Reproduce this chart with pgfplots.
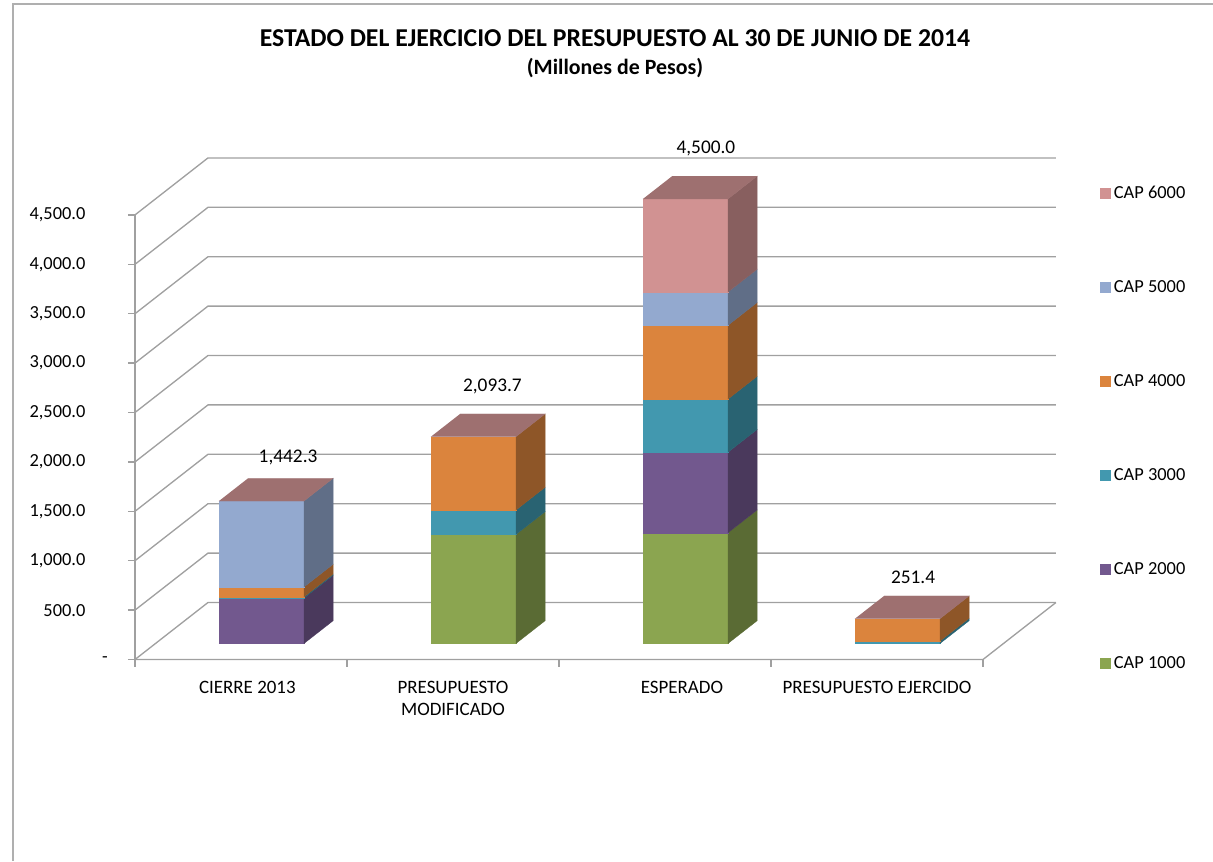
\documentclass[border=0pt]{standalone}
\usepackage{pgfplots}
\pgfplotsset{compat=1.18}
\usepackage{fontspec}
\setmainfont{Carlito}
% front / side colours
\definecolor{fA}{RGB}{139,165,80}   \definecolor{sA}{RGB}{90,107,52}
\definecolor{fB}{RGB}{114,88,142}   \definecolor{sB}{RGB}{74,57,92}
\definecolor{fC}{RGB}{66,152,175}   \definecolor{sC}{RGB}{41,99,114}
\definecolor{fD}{RGB}{219,132,61}   \definecolor{sD}{RGB}{142,86,40}
\definecolor{fE}{RGB}{147,169,207}  \definecolor{sE}{RGB}{96,110,135}
\definecolor{fF}{RGB}{209,146,146}  \definecolor{sF}{RGB}{136,95,95}
\definecolor{topc}{RGB}{158,112,112}
\definecolor{gridc}{RGB}{160,160,160}
\definecolor{framec}{RGB}{175,175,175}
% bar geometry (category units / value units)
\def\hw{0.2005}\def\fdx{0.0964}\def\fdy{161.5}\def\bdx{0.2341}\def\bdy{392.3}
% segment: x, base, height, front colour, side colour
\newcommand\seg[5]{%
 \pgfmathsetmacro\Xa{#1-\hw+\fdx}%
 \pgfmathsetmacro\Xb{#1+\hw+\fdx}%
 \pgfmathsetmacro\Xc{#1+\hw+\bdx}%
 \pgfmathsetmacro\Ya{#2+\fdy}%
 \pgfmathsetmacro\Yb{#2+#3+\fdy}%
 \pgfmathsetmacro\Yc{#2+\bdy}%
 \pgfmathsetmacro\Yd{#2+#3+\bdy}%
 \edef\next{%
  \noexpand\addplot[fill=#4,draw=#4,line width=0.2pt,forget plot] coordinates {(\Xa,\Ya) (\Xb,\Ya) (\Xb,\Yb) (\Xa,\Yb)};%
  \noexpand\addplot[fill=#5,draw=#5,line width=0.2pt,forget plot] coordinates {(\Xb,\Ya) (\Xc,\Yc) (\Xc,\Yd) (\Xb,\Yb)};%
 }\next}
% top face: x, total
\newcommand\topf[2]{%
 \pgfmathsetmacro\Xa{#1-\hw+\fdx}%
 \pgfmathsetmacro\Xb{#1+\hw+\fdx}%
 \pgfmathsetmacro\Xc{#1+\hw+\bdx}%
 \pgfmathsetmacro\Xd{#1-\hw+\bdx}%
 \pgfmathsetmacro\Ya{#2+\fdy}%
 \pgfmathsetmacro\Yc{#2+\bdy}%
 \edef\next{\noexpand\addplot[fill=topc,draw=topc,line width=0.2pt,forget plot] coordinates {(\Xa,\Ya) (\Xb,\Ya) (\Xc,\Yc) (\Xd,\Yc)};}\next}
\begin{document}
\begin{tikzpicture}
\useasboundingbox (0,0) rectangle (909.75pt,645.75pt);
\draw[framec, line width=1pt] (9.75pt,0) -- (9.75pt,642.75pt) -- (909.75pt,642.75pt);
\node[anchor=base, font=\bfseries\fontsize{19.3}{23}\selectfont] at (461.25pt,611pt)
  {ESTADO DEL EJERCICIO DEL PRESUPUESTO AL 30 DE JUNIO DE 2014};
\node[anchor=base, font=\bfseries\fontsize{16.4}{20}\selectfont] at (461.25pt,589.5pt)
  {(Millones de Pesos)};
\begin{axis}[
  at={(101.25pt,151.125pt)}, anchor=south west,
  scale only axis, width=691.65pt, height=377.9pt,
  xmin=-0.5, xmax=3.85, ymin=0, ymax=5100,
  clip=false,
  axis line style={draw=none},
  tick align=outside,
  major tick length=5.25pt,
  tick style={gridc, line width=1pt},
  ytick pos=left, xtick pos=bottom,
  ytick={0,500,1000,1500,2000,2500,3000,3500,4000,4500},
  yticklabels={{\rlap{\hspace{12.5pt}-}},500.0,{1,000.0},{1,500.0},{2,000.0},{2,500.0},{3,000.0},{3,500.0},{4,000.0},{4,500.0}},
  yticklabel style={font=\fontsize{13.8}{16.5}\selectfont, xshift=-28.4pt},
  xtick={-0.5,0.5,1.5,2.5,3.5},
  xticklabels={},
  extra x ticks={0.03,1.0,2.08,3.0},
  extra x tick labels={CIERRE 2013,PRESUPUESTO\\MODIFICADO,ESPERADO,PRESUPUESTO EJERCIDO},
  extra x tick style={major tick length=0pt,
     xticklabel style={font=\fontsize{14.2}{17}\selectfont, align=center, anchor=north, yshift=-12.4pt}},
  legend style={draw=none, fill=none, at={(1.0464,0.9456)}, anchor=north west,
     inner sep=0pt, row sep=56.1pt, font=\fontsize{13.8}{16.5}\selectfont},
  legend cell align=left,
  legend image code/.code={\fill[#1] (0pt,-4.125pt) rectangle (8.25pt,4.125pt);},
]
% walls: left-wall diagonals and back-wall gridlines
\addplot[gridc, line width=1pt, forget plot] coordinates {(-0.5,0) (-0.1557,576.9) (3.844,576.9)};
\addplot[gridc, line width=1pt, forget plot] coordinates {(-0.5,500) (-0.1557,1076.9) (3.844,1076.9)};
\addplot[gridc, line width=1pt, forget plot] coordinates {(-0.5,1000) (-0.1557,1576.9) (3.844,1576.9)};
\addplot[gridc, line width=1pt, forget plot] coordinates {(-0.5,1500) (-0.1557,2076.9) (3.844,2076.9)};
\addplot[gridc, line width=1pt, forget plot] coordinates {(-0.5,2000) (-0.1557,2576.9) (3.844,2576.9)};
\addplot[gridc, line width=1pt, forget plot] coordinates {(-0.5,2500) (-0.1557,3076.9) (3.844,3076.9)};
\addplot[gridc, line width=1pt, forget plot] coordinates {(-0.5,3000) (-0.1557,3576.9) (3.844,3576.9)};
\addplot[gridc, line width=1pt, forget plot] coordinates {(-0.5,3500) (-0.1557,4076.9) (3.844,4076.9)};
\addplot[gridc, line width=1pt, forget plot] coordinates {(-0.5,4000) (-0.1557,4576.9) (3.844,4576.9)};
\addplot[gridc, line width=1pt, forget plot] coordinates {(-0.5,4500) (-0.1557,5076.9) (3.844,5076.9)};
% floor edges and left axis line
\addplot[gridc, line width=1pt, forget plot] coordinates {(-0.5,0) (3.5,0) (3.844,576.9)};
\addplot[gridc, line width=1pt, forget plot] coordinates {(-0.5,0) (-0.5,4500)};
% CIERRE 2013
\seg{0}{0}{460}{fB}{sB}
\seg{0}{460}{12}{fC}{sC}
\seg{0}{472}{100}{fD}{sD}
\seg{0}{572}{870.3}{fE}{sE}
\topf{0}{1442.3}
% PRESUPUESTO MODIFICADO
\seg{1}{0}{1104}{fA}{sA}
\seg{1}{1104}{247}{fC}{sC}
\seg{1}{1351}{742.7}{fD}{sD}
\topf{1}{2093.7}
% ESPERADO
\seg{2}{0}{1121}{fA}{sA}
\seg{2}{1121}{815}{fB}{sB}
\seg{2}{1936}{538}{fC}{sC}
\seg{2}{2474}{747}{fD}{sD}
\seg{2}{3221}{337}{fE}{sE}
\seg{2}{3558}{942}{fF}{sF}
\topf{2}{4500}
% PRESUPUESTO EJERCIDO
\seg{3}{0}{25}{fC}{sC}
\seg{3}{25}{226.4}{fD}{sD}
\topf{3}{251.4}
% totals
\node[font=\fontsize{14.5}{17}\selectfont] at (axis cs:0.222,2050) {1,442.3};
\node[font=\fontsize{14.5}{17}\selectfont] at (axis cs:1.186,2768) {2,093.7};
\node[font=\fontsize{14.5}{17}\selectfont] at (axis cs:2.193,5177) {4,500.0};
\node[font=\fontsize{14.5}{17}\selectfont] at (axis cs:3.17,835) {251.4};
% legend
\addlegendimage{fill=fF, draw=none}\addlegendentry{CAP 6000}
\addlegendimage{fill=fE, draw=none}\addlegendentry{CAP 5000}
\addlegendimage{fill=fD, draw=none}\addlegendentry{CAP 4000}
\addlegendimage{fill=fC, draw=none}\addlegendentry{CAP 3000}
\addlegendimage{fill=fB, draw=none}\addlegendentry{CAP 2000}
\addlegendimage{fill=fA, draw=none}\addlegendentry{CAP 1000}
\end{axis}
\end{tikzpicture}
\end{document}
